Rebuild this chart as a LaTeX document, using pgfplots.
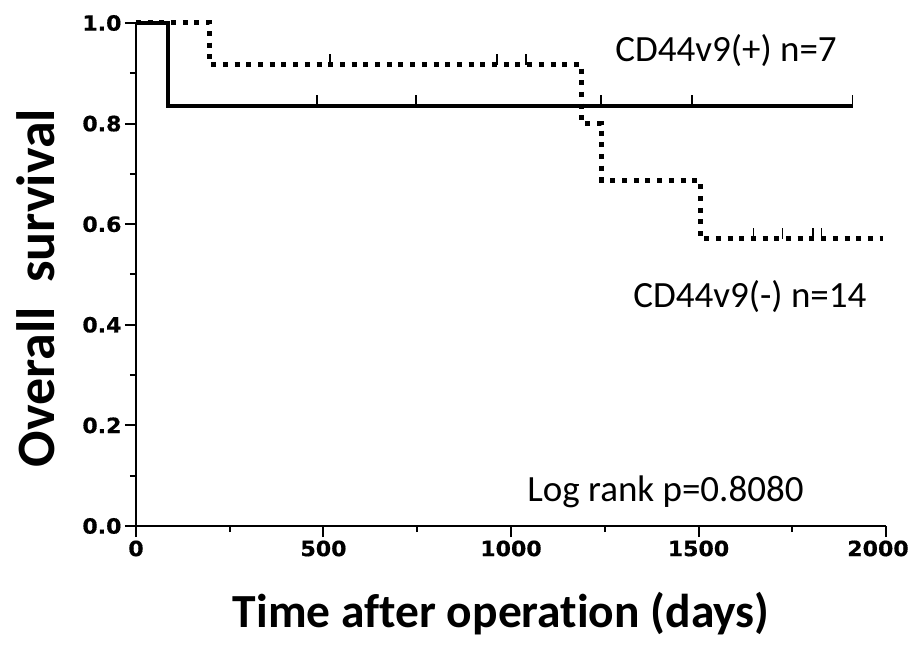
\documentclass[border=0pt]{standalone}
\usepackage{pgfplots}
\pgfplotsset{compat=1.18}
\usepackage{fontspec}
\setmainfont{Carlito}[Ligatures=NoCommon]
\newfontface\tickfont{DejaVu Sans Bold}[FakeStretch=1.05, FakeBold=0.6]

\pgfdeclareplotmark{cens}{\pgfpathmoveto{\pgfpoint{0pt}{0pt}}\pgfpathlineto{\pgfpoint{0pt}{11pt}}\pgfusepathqstroke}

\begin{document}
\begin{tikzpicture}
\begin{axis}[
  name=ax,
  scale only axis,
  width=750pt, height=503pt,
  xmin=0, xmax=2000, ymin=0, ymax=1,
  axis lines=left,
  axis line style={-, line width=2.2pt},
  every tick/.style={black, line width=2pt},
  tick align=outside,
  major tick length=11pt,
  minor tick length=6pt,
  xtick={0,500,1000,1500,2000},
  xticklabels={0,500,1000,1500,\hspace*{-16pt}2000},
  minor xtick={250,750,1250,1750},
  ytick={0,0.2,0.4,0.6,0.8,1.0},
  yticklabels={0.0,0.2,0.4,0.6,0.8,1.0},
  minor ytick={0.1,0.3,0.5,0.7,0.9},
  xticklabel style={font={\tickfont\fontsize{21}{21}\selectfont}},
  yticklabel style={font={\tickfont\fontsize{21}{21}\selectfont}},
  xlabel={Time after operation (days)},
  ylabel={Overall\ \ survival},
  xlabel style={font=\bfseries\fontsize{47.5}{47.5}\selectfont, at={(axis description cs:0.487,-0.201)}, anchor=base},
  ylabel style={font=\bfseries\fontsize{54}{54}\selectfont, at={(axis description cs:-0.108,0.473)}, anchor=base, rotate=0},
  clip=false,
]
% CD44v9(-) n=14 (dotted)
\addplot[black, line width=5pt, dash pattern=on 5pt off 6.7pt, line cap=butt] coordinates {
  (0,1) (197,1) (197,0.917) (1189,0.917) (1189,0.80) (1242,0.80) (1242,0.687) (1504,0.687) (1504,0.571) (1991,0.571)
};
\addplot[only marks, mark=cens, mark options={solid, black, line width=1.5pt}] coordinates {
  (517,0.917) (962,0.917) (1040,0.917) (1647,0.571) (1724,0.571) (1805,0.571) (1828,0.571)
};
% CD44v9(+) n=7 (solid)
\addplot[black, line width=4pt] coordinates {
  (0,1) (85,1) (85,0.834) (1911,0.834)
};
\addplot[only marks, mark=cens, mark options={solid, black, line width=1.5pt}] coordinates {
  (483,0.834) (747,0.834) (1240,0.834) (1483,0.834) (1911,0.834)
};
\node[anchor=base west, font=\fontsize{37}{37}\selectfont, inner sep=0pt] at (axis cs:1278,0.924) {CD44v9(+) n=7};
\node[anchor=base west, font=\fontsize{37}{37}\selectfont, inner sep=0pt] at (axis cs:1326,0.435) {CD44v9(-) n=14};
\node[anchor=base west, font=\fontsize{37}{37}\selectfont, inner sep=0pt] at (axis cs:1043,0.048) {Log rank p=0.8080};
\end{axis}
\pgfresetboundingbox
\path (ax.south west) ++(-136pt,-119pt) rectangle ++(914pt,645pt);
\end{tikzpicture}
\end{document}
